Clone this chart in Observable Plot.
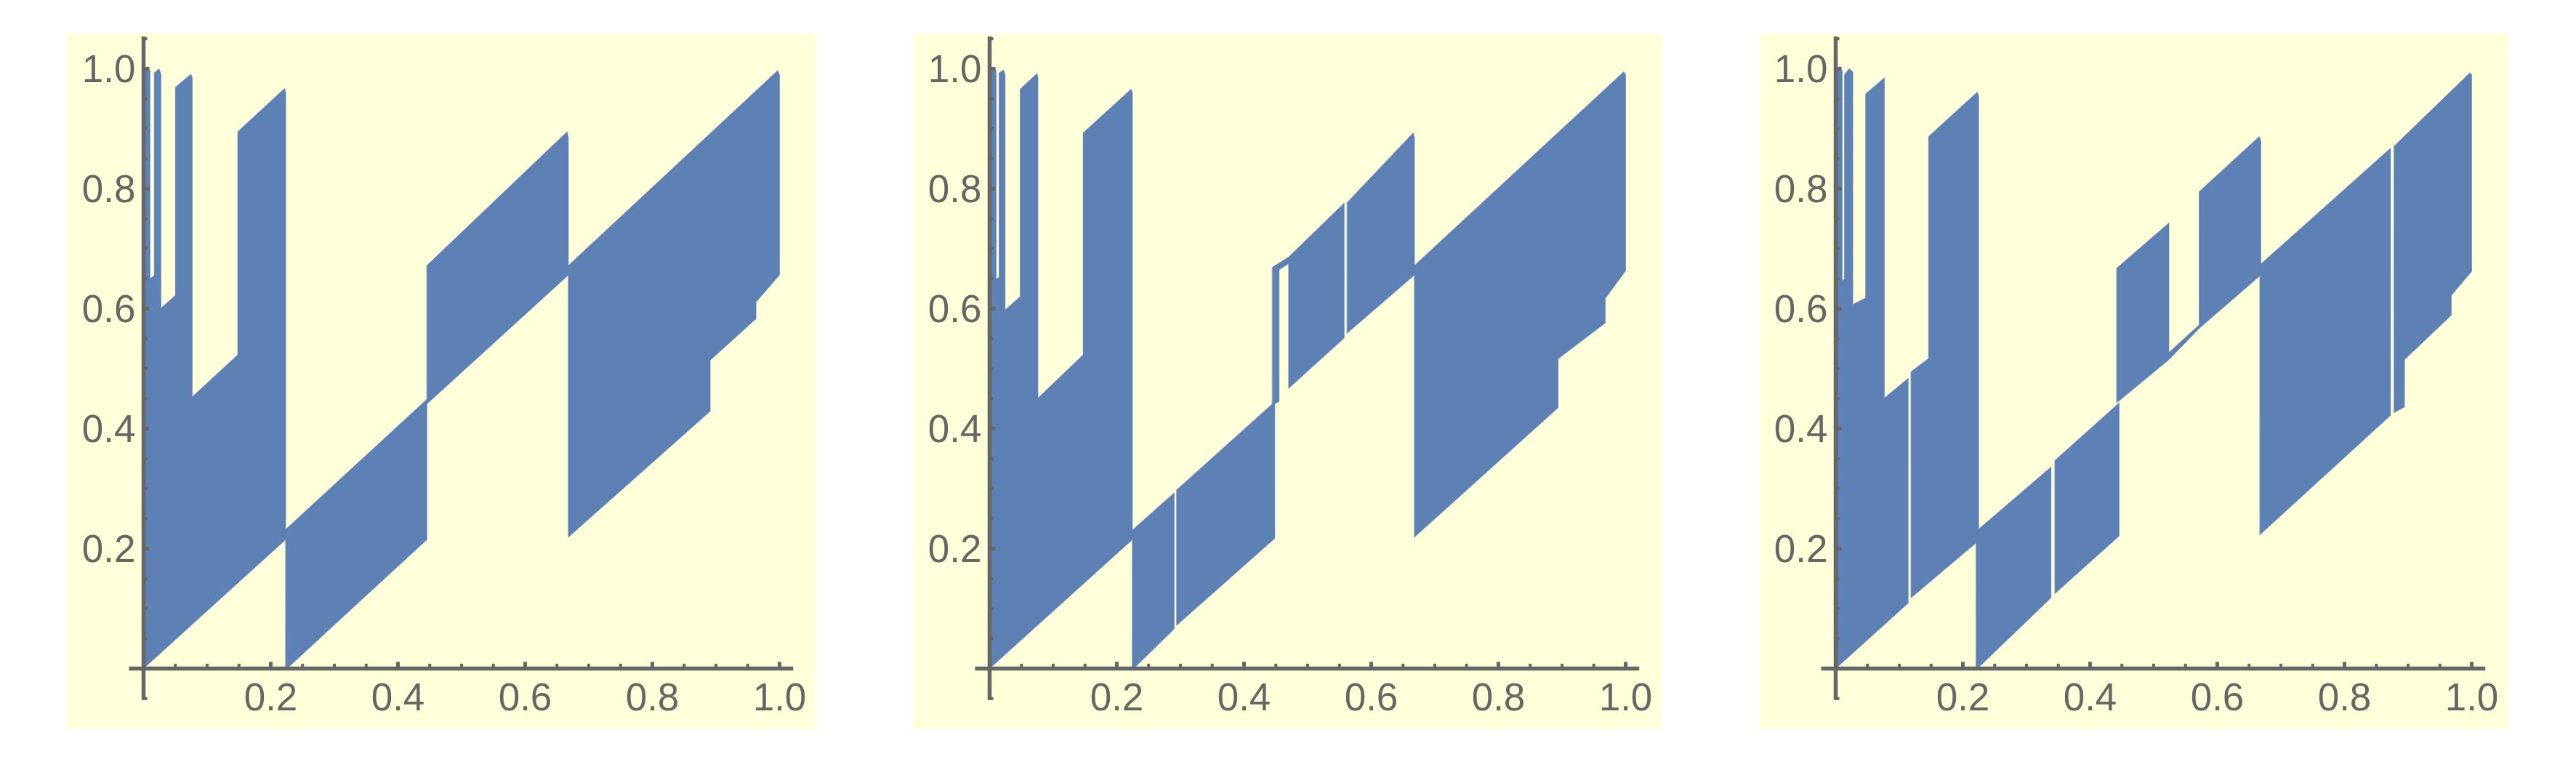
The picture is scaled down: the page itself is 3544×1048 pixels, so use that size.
<!DOCTYPE html>
<html>
<head>
<meta charset="utf-8">
<script src="https://cdn.jsdelivr.net/npm/d3@7"></script>
<script src="https://cdn.jsdelivr.net/npm/@observablehq/plot@0.6"></script>
<style>
html, body { margin: 0; padding: 0; background: #ffffff; }
#wrap { position: relative; width: 3544px; height: 1048px; overflow: hidden; }
.panel { position: absolute; top: 46px; }
.panel svg { display: block; }
</style>
</head>
<body>
<div id="wrap"></div>
<script>
// ---- tick values ----
const xTickLabels = [0.2, 0.4, 0.6, 0.8, 1.0];
const yTickLabels = [0.2, 0.4, 0.6, 0.8, 1.0];
const xMinorTicks = [0.05, 0.1, 0.15, 0.25, 0.3, 0.35, 0.45, 0.5, 0.55, 0.65, 0.7, 0.75, 0.85, 0.9, 0.95];
const yMinorTicks = [-0.05, 0.05, 0.1, 0.15, 0.25, 0.3, 0.35, 0.45, 0.5, 0.55, 0.65, 0.7, 0.75, 0.85, 0.9, 0.95, 1.05];

// ---- filled regions: outline vertices [x, y] of each filled piece ----
const panel1Pieces = [
  [[0, 1.0], [0.0103, 0.997], [0.0103, 0.650], [0.0168, 0.655], [0.0168, 0.993], [0.0245, 1.0], [0.0274, 0.99],
   [0.0274, 0.601], [0.050, 0.622], [0.050, 0.969], [0.0745, 0.991], [0.0766, 0.985], [0.0766, 0.453], [0.148, 0.523],
   [0.148, 0.895], [0.2215, 0.967], [0.2235, 0.96], [0.2235, 0.215], [0, 0]],
  [[0.2235, 0.232], [0.4455, 0.449], [0.4455, 0.215], [0.2255, 0], [0.2235, 0]],
  [[0.4455, 0.672], [0.666, 0.895], [0.668, 0.885], [0.668, 0.656], [0.4455, 0.441]],
  [[0.668, 0.672], [0.997, 0.997], [1.0, 0.99], [1.0, 0.656], [0.963, 0.611], [0.963, 0.583], [0.891, 0.514],
   [0.891, 0.429], [0.668, 0.219]]
];
const panel2Pieces = [
  [[0, 1.0], [0.0103, 0.997], [0.0103, 0.650], [0.0149, 0.652], [0.0149, 0.993], [0.022, 0.998], [0.0244, 0.99],
   [0.0244, 0.598], [0.048, 0.620], [0.048, 0.966], [0.0745, 0.992], [0.076, 0.985], [0.076, 0.451], [0.147, 0.523],
   [0.147, 0.893], [0.2225, 0.966], [0.2245, 0.96], [0.2245, 0.215], [0, 0]],
  [[0.2245, 0.231], [0.2903, 0.293], [0.2903, 0.066], [0.2265, 0], [0.2245, 0]],
  [[0.2941, 0.298], [0.4484, 0.445], [0.4484, 0.217], [0.2941, 0.072]],
  [[0.4446, 0.669], [0.4701, 0.686], [0.5575, 0.776], [0.5575, 0.551], [0.4701, 0.467], [0.4701, 0.675],
   [0.4552, 0.665], [0.4552, 0.445], [0.4446, 0.44]],
  [[0.5621, 0.777], [0.666, 0.893], [0.668, 0.885], [0.668, 0.656], [0.5621, 0.559]],
  [[0.668, 0.672], [0.997, 0.995], [1.0, 0.99], [1.0, 0.663], [0.968, 0.617], [0.968, 0.576], [0.894, 0.5165],
   [0.894, 0.435], [0.668, 0.219]]
];
const panel3Pieces = [
  [[0, 0.997], [0.0103, 0.997], [0.0103, 0.647], [0.0137, 0.649], [0.0137, 0.99], [0.021, 1.0], [0.027, 0.995],
   [0.027, 0.607], [0.047, 0.618], [0.047, 0.958], [0.0766, 0.985], [0.0766, 0.451], [0.114, 0.484], [0.114, 0.109], [0, 0]],
  [[0.1185, 0.495], [0.146, 0.517], [0.146, 0.887], [0.2225, 0.961], [0.2248, 0.955], [0.2248, 0.213], [0.1185, 0.118]],
  [[0.2209, 0.229], [0.3386, 0.336], [0.3386, 0.118], [0.2229, 0], [0.2209, 0]],
  [[0.3447, 0.347], [0.4457, 0.443], [0.4457, 0.221], [0.3447, 0.125]],
  [[0.4419, 0.6675], [0.524, 0.743], [0.524, 0.527], [0.5714, 0.573], [0.5714, 0.795], [0.666, 0.887], [0.6685, 0.88],
   [0.6685, 0.656], [0.5714, 0.567], [0.524, 0.515], [0.4419, 0.443]],
  [[0.667, 0.673], [0.8724, 0.8675], [0.8724, 0.422], [0.667, 0.223]],
  [[0.878, 0.871], [0.997, 0.993], [1.0, 0.99], [1.0, 0.662], [0.968, 0.622], [0.968, 0.589], [0.8944, 0.515],
   [0.8944, 0.436], [0.878, 0.4268]]
];

const panels = [panel1Pieces, panel2Pieces, panel3Pieces];
const panelLeft = [93, 1257, 2421];

const FILL = "#5E81B5";
const AXIS = "#666666";
const BG = "#FFFFD9";
const FONT = "'Liberation Sans', Arial, Helvetica, sans-serif";

const W = 1029, H = 957, ML = 104, MR = 50, MT = 48, MB = 84;
const kx = W - ML - MR;   // px per x unit
const ky = H - MT - MB;   // px per y unit

function makePanel(pieces) {
  const rows = pieces.flatMap((piece, i) => piece.map(([x, y]) => ({x, y, piece: i})));
  return Plot.plot({
    width: W, height: H,
    marginLeft: ML, marginRight: MR, marginTop: MT, marginBottom: MB,
    x: {domain: [0, 1], axis: null},
    y: {domain: [0, 1], axis: null},
    style: {background: BG, overflow: "visible"},
    marks: [
      Plot.line(rows, {x: "x", y: "y", z: "piece", fill: FILL, stroke: FILL, strokeWidth: 0.6, curve: "linear-closed"}),
      // axes lines
      Plot.ruleY([0], {x1: -0.0223, x2: 1.022, stroke: AXIS, strokeWidth: 5.5}),
      Plot.ruleX([0], {y1: -0.053, y2: 1.053, stroke: AXIS, strokeWidth: 5.5}),
      // x ticks (inward, upward)
      Plot.ruleX(xTickLabels, {x: d => d, y1: 0, y2: 8.8 / ky, stroke: AXIS, strokeWidth: 5}),
      Plot.ruleX(xMinorTicks, {x: d => d, y1: 0, y2: 6.2 / ky, stroke: AXIS, strokeWidth: 4}),
      // y ticks (inward, rightward)
      Plot.ruleY(yTickLabels, {y: d => d, x1: 0, x2: 8.6 / kx, stroke: AXIS, strokeWidth: 5}),
      Plot.ruleY(yMinorTicks, {y: d => d, x1: 0, x2: 5.6 / kx, stroke: AXIS, strokeWidth: 4}),
      // tick labels
      Plot.text(xTickLabels, {x: d => d, y: 0, text: d => d.toFixed(1), dy: 41, fontSize: 53,
        fill: AXIS, fontFamily: FONT, textAnchor: "middle"}),
      Plot.text(yTickLabels, {x: 0, y: d => d, text: d => d.toFixed(1), dx: -11, dy: 2, fontSize: 53,
        fill: AXIS, fontFamily: FONT, textAnchor: "end"})
    ]
  });
}

const wrap = document.getElementById("wrap");
panels.forEach((pieces, i) => {
  const div = document.createElement("div");
  div.className = "panel";
  div.style.left = panelLeft[i] + "px";
  div.appendChild(makePanel(pieces));
  wrap.appendChild(div);
});
</script>
</body>
</html>
